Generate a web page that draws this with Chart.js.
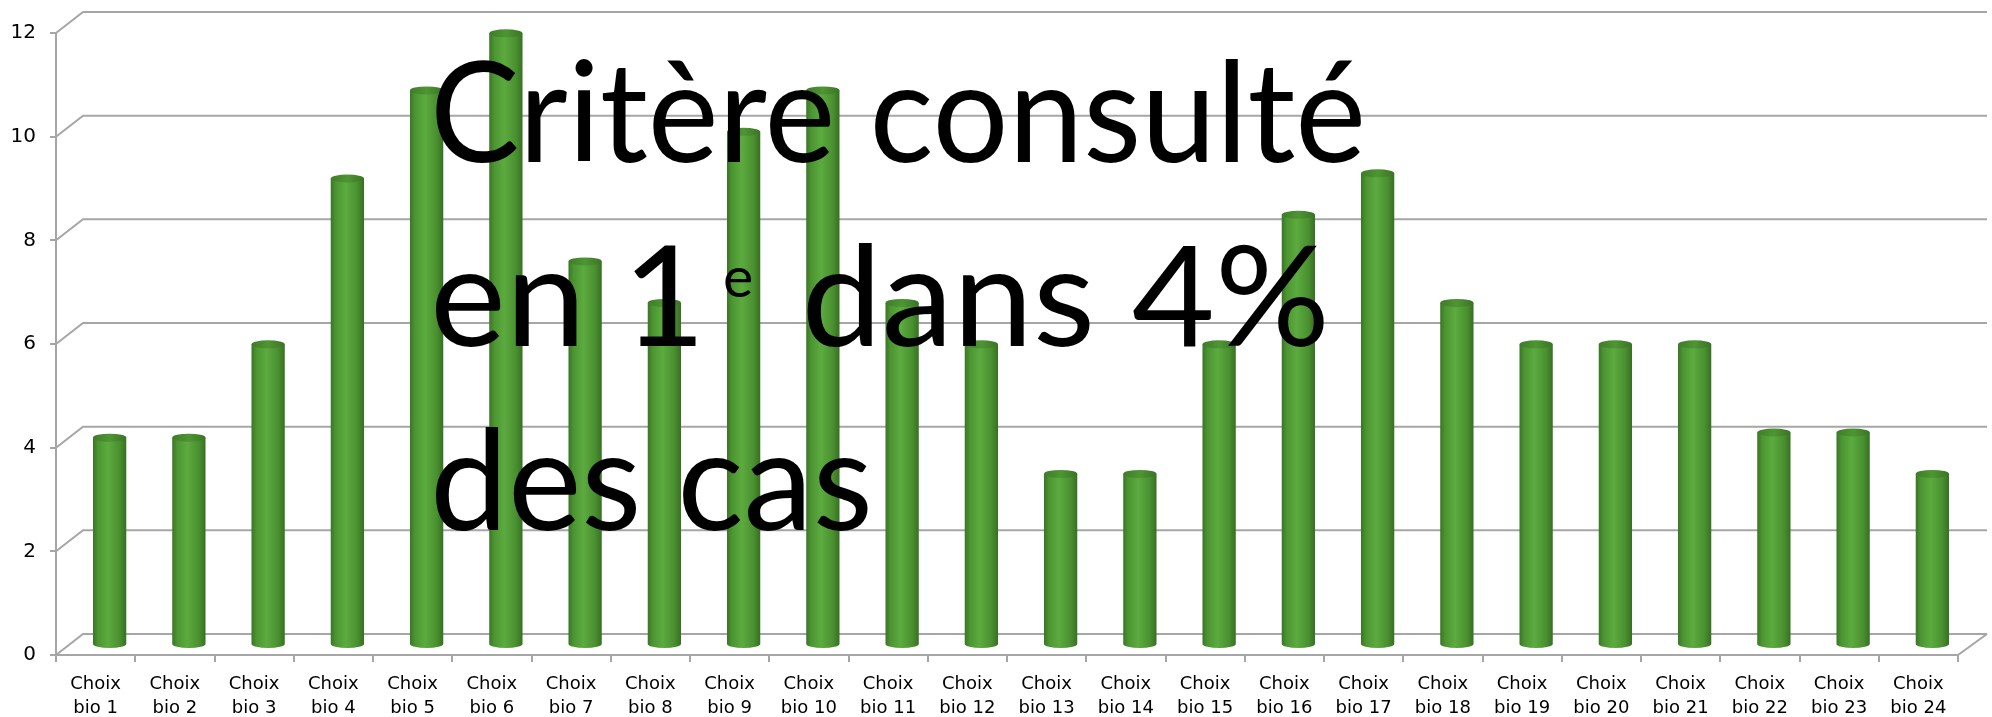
<!DOCTYPE html>
<html>
<head>
<meta charset="utf-8">
<script src="https://cdn.jsdelivr.net/npm/chart.js@4.4.1/dist/chart.umd.min.js"></script>
<style>
  html, body { margin: 0; padding: 0; background: #fff; }
  #wrap { position: relative; width: 1992px; height: 717px; }
  #title {
    position: absolute; left: 430px; top: 16px;
    font-family: Lato, sans-serif; font-size: 140px;
    color: #000; pointer-events: none; white-space: nowrap;
  }
  #title span { display: block; height: 184px; line-height: 184px; transform-origin: 0 0; }
  #title sup { font-size: 0.4em; line-height: 0; vertical-align: 0; position: relative; top: -0.875em; margin-left: 0.3em; margin-right: 0.2em; }
</style>
</head>
<body>
<div id="wrap">
  <canvas id="myChart" width="1992" height="717"></canvas>
  <div id="title">
    <span>Critère consulté</span>
    <span>en 1<sup>e</sup> dans 4%</span>
    <span>des cas</span>
  </div>
</div>
<script>
// categories and values
const categories = [];
for (let i = 1; i <= 24; i++) {
  categories.push(['Choix', 'bio ' + i]);
}
const values = [4.0, 4.0, 5.8, 9.0, 10.7, 11.8, 7.4, 6.6, 9.9, 10.7, 6.6, 5.8,
                3.3, 3.3, 5.8, 8.3, 9.1, 6.6, 5.8, 5.8, 5.8, 4.1, 4.1, 3.3];
const yTicks = [0, 2, 4, 6, 8, 10, 12];

const gridColor = '#a6a6a6';
const depthX = 27, depthY = 21;   // offset of the back wall
const barShiftX = 14, barShiftY = 10;

// horizontal shading of a cylinder
function cylinderFill(ctx, x, rx, stops) {
  const g = ctx.createLinearGradient(x - rx, 0, x + rx, 0);
  stops.forEach(s => g.addColorStop(s[0], s[1]));
  return g;
}
const bodyStops = [[0, '#3b7526'], [0.15, '#4c9532'], [0.45, '#5cab3f'], [0.8, '#4a9030'], [1, '#386f24']];
const capStops = [[0, '#3f7c29'], [0.5, '#4e9533'], [1, '#3a7425']];

// back walls + floor, then shift bars to middle depth
const depthPlugin = {
  id: 'depth3d',
  beforeDatasetsDraw(chart) {
    const ctx = chart.ctx;
    const area = chart.chartArea;
    const y = chart.scales.y;
    ctx.save();
    ctx.strokeStyle = gridColor;
    ctx.lineWidth = 2;
    yTicks.forEach(v => {
      const py = y.getPixelForValue(v);
      ctx.beginPath();
      ctx.moveTo(area.left, py);
      ctx.lineTo(area.left + depthX, py - depthY);
      ctx.lineTo(area.right + depthX + 2, py - depthY);
      ctx.stroke();
    });
    // right side of the floor
    ctx.beginPath();
    ctx.moveTo(area.right, area.bottom);
    ctx.lineTo(area.right + depthX + 2, area.bottom - depthY);
    ctx.stroke();
    ctx.restore();

    ctx.save();
    ctx.translate(barShiftX, -barShiftY);
  },
  afterDatasetsDraw(chart) {
    const ctx = chart.ctx;
    const meta = chart.getDatasetMeta(0);
    meta.data.forEach(bar => {
      const rx = bar.width / 2;
      // bottom rounding
      ctx.fillStyle = cylinderFill(ctx, bar.x, rx, bodyStops);
      ctx.beginPath();
      ctx.ellipse(bar.x, bar.base, rx, 4, 0, 0, Math.PI);
      ctx.fill();
      // top cap
      ctx.fillStyle = cylinderFill(ctx, bar.x, rx, capStops);
      ctx.beginPath();
      ctx.ellipse(bar.x, bar.y, rx, 4, 0, 0, Math.PI * 2);
      ctx.fill();
    });
    ctx.restore();
  }
};

const myChart = document.getElementById('myChart');

let barChart = new Chart(myChart, {
  type: 'bar',
  data: {
    labels: categories,
    datasets: [{
      data: values,
      clip: false,
      categoryPercentage: 1,
      barPercentage: 0.42,
      borderWidth: 0,
      backgroundColor: function(c) {
        const xs = c.chart.scales.x;
        if (!xs || c.dataIndex === undefined) return '#52a036';
        const cx = xs.getPixelForValue(c.dataIndex);
        const half = xs.width / categories.length * 0.42 / 2;
        if (!isFinite(cx) || !isFinite(half) || half <= 0) return '#52a036';
        return cylinderFill(c.chart.ctx, cx, half, bodyStops);
      }
    }]
  },
  plugins: [depthPlugin],
  options: {
    responsive: false,
    animation: false,
    layout: { padding: { top: 33, right: 34, left: 0, bottom: 0 } },
    plugins: {
      legend: { display: false },
      tooltip: { enabled: false }
    },
    scales: {
      x: {
        afterFit: s => { s.height = 62; },
        grid: { offset: true, drawOnChartArea: false, tickLength: 7, color: gridColor, lineWidth: 2 },
        border: { display: true, color: gridColor, width: 2 },
        ticks: {
          color: '#000', maxRotation: 0, autoSkip: false, padding: 10,
          font: { family: 'DejaVu Sans', size: 18, lineHeight: 1.34 }
        }
      },
      y: {
        min: 0, max: 12,
        afterFit: s => { s.width = 56; },
        grid: { drawOnChartArea: false, tickLength: 6, color: gridColor, lineWidth: 2 },
        border: { display: true, color: gridColor, width: 2 },
        ticks: {
          stepSize: 2, color: '#000', padding: 14,
          font: { family: 'DejaVu Sans', size: 20 }
        }
      }
    }
  }
});

// fit the title lines to the widths seen in the picture
const targetWidths = [936, 900, 443];
document.querySelectorAll('#title span').forEach((el, i) => {
  const range = document.createRange();
  range.selectNodeContents(el);
  const tw = range.getBoundingClientRect().width;
  el.style.transform = 'scaleX(' + (targetWidths[i] / tw) + ')';
});
</script>
</body>
</html>
